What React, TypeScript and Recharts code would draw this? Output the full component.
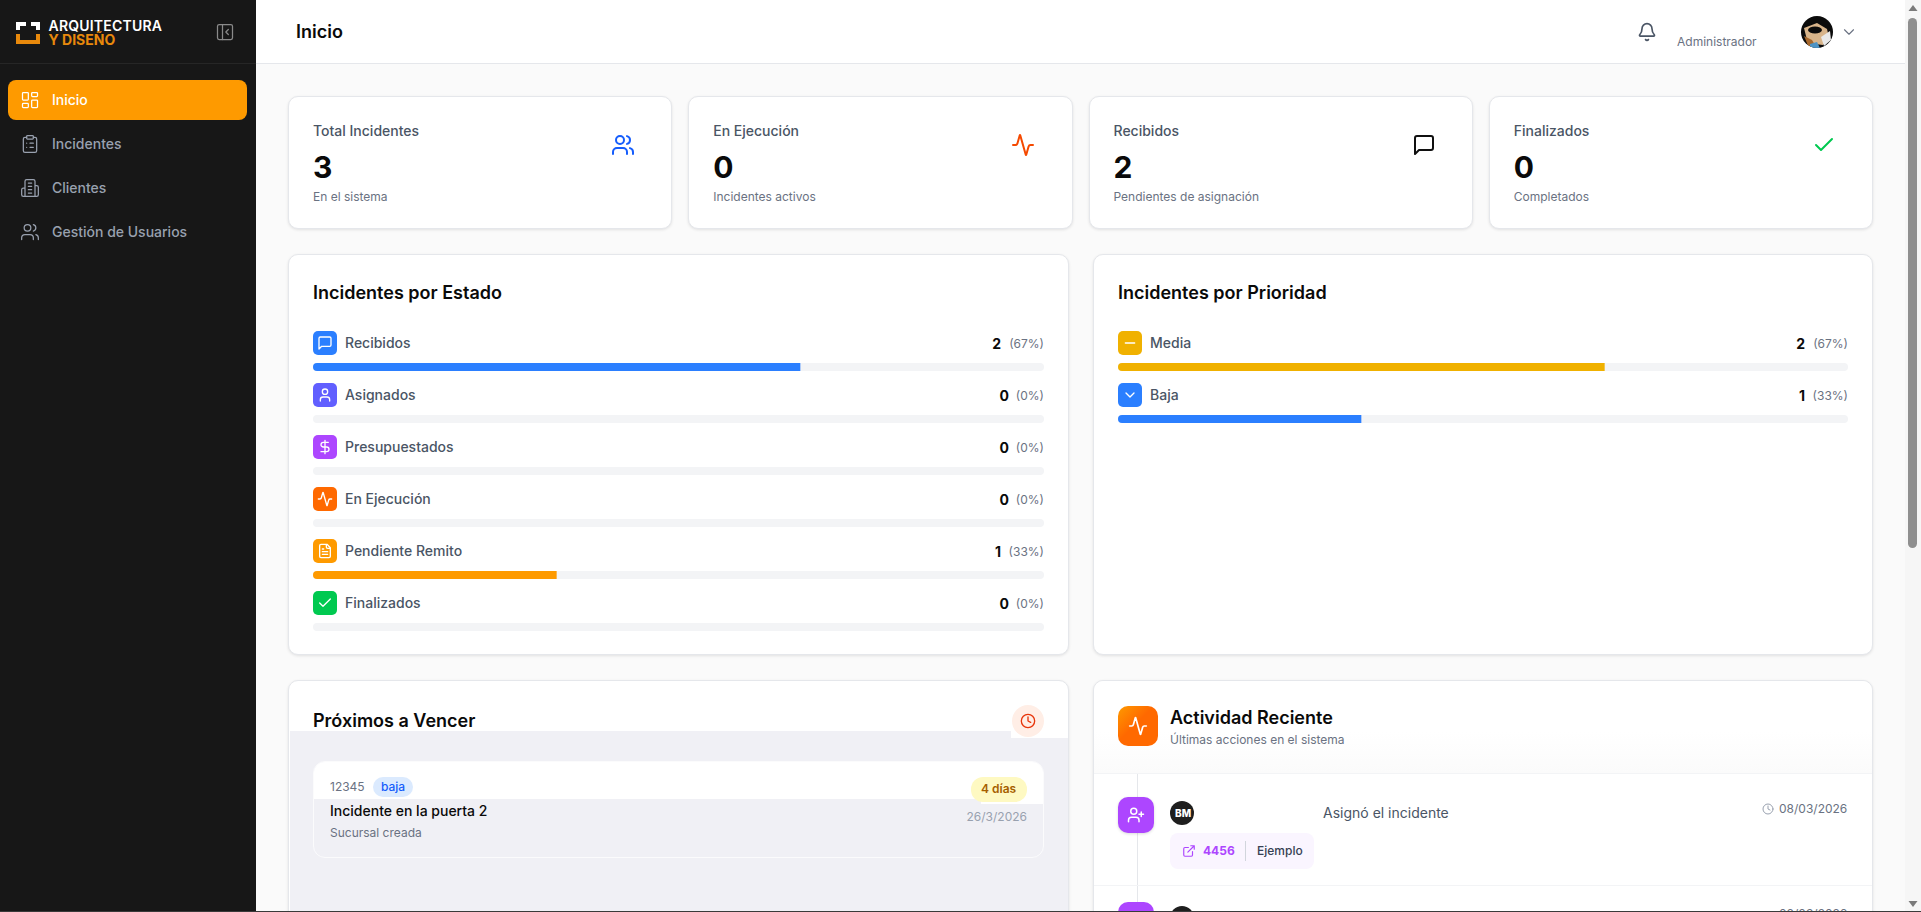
import React from 'react'
import { BarChart, Bar, Cell, XAxis, YAxis, LabelList } from 'recharts'

const FONT = 'Inter, sans-serif'
const INK = '#0a0a0a'

const navItems = ['Inicio', 'Incidentes', 'Clientes', 'Gestión de Usuarios']

const kpiTitles = ['Total Incidentes', 'En Ejecución', 'Recibidos', 'Finalizados']
const kpiValues = [3, 0, 2, 0]
const kpiNotes = ['En el sistema', 'Incidentes activos', 'Pendientes de asignación', 'Completados']

const stateNames = ['Recibidos', 'Asignados', 'Presupuestados', 'En Ejecución', 'Pendiente Remito', 'Finalizados']
const stateCounts = [2, 0, 0, 0, 1, 0]
const statePercents = ['67%', '0%', '0%', '0%', '33%', '0%']

const priorityNames = ['Media', 'Baja']
const priorityCounts = [2, 1]
const priorityPercents = ['67%', '33%']

const totalIncidents = 3

const stateColors = ['#2b7fff', '#615fff', '#ad46ff', '#ff6900', '#fe9a00', '#00c950']
const priorityColors = ['#f0b100', '#2b7fff']

// lucide icons, 24x24 viewBox
const icons: Record<string, React.ReactNode> = {
  dashboard: (
    <>
      <rect x="3" y="3" width="7" height="9" rx="1" />
      <rect x="14" y="3" width="7" height="5" rx="1" />
      <rect x="14" y="12" width="7" height="9" rx="1" />
      <rect x="3" y="16" width="7" height="5" rx="1" />
    </>
  ),
  clipboard: (
    <>
      <rect x="8" y="2" width="8" height="4" rx="1" />
      <path d="M16 4h2a2 2 0 0 1 2 2v14a2 2 0 0 1-2 2H6a2 2 0 0 1-2-2V6a2 2 0 0 1 2-2h2" />
      <path d="M12 11h4M12 16h4M8 11h.01M8 16h.01" />
    </>
  ),
  building: (
    <path d="M6 22V4a2 2 0 0 1 2-2h8a2 2 0 0 1 2 2v18ZM6 12H4a2 2 0 0 0-2 2v6a2 2 0 0 0 2 2h2M18 9h2a2 2 0 0 1 2 2v9a2 2 0 0 1-2 2h-2M10 6h4M10 10h4M10 14h4M10 18h4" />
  ),
  users: (
    <>
      <path d="M16 21v-2a4 4 0 0 0-4-4H6a4 4 0 0 0-4 4v2" />
      <circle cx="9" cy="7" r="4" />
      <path d="M22 21v-2a4 4 0 0 0-3-3.87M16 3.13a4 4 0 0 1 0 7.75" />
    </>
  ),
  activity: (
    <path d="M22 12h-2.48a2 2 0 0 0-1.93 1.46l-2.35 8.36a.25.25 0 0 1-.48 0L9.24 2.18a.25.25 0 0 0-.48 0l-2.35 8.36A2 2 0 0 1 4.49 12H2" />
  ),
  message: <path d="M21 15a2 2 0 0 1-2 2H7l-4 4V5a2 2 0 0 1 2-2h14a2 2 0 0 1 2 2z" />,
  check: <path d="M20 6 9 17l-5-5" />,
  user: (
    <>
      <path d="M19 21v-2a4 4 0 0 0-4-4H9a4 4 0 0 0-4 4v2" />
      <circle cx="12" cy="7" r="4" />
    </>
  ),
  dollar: <path d="M12 2v20M17 5H9.5a3.5 3.5 0 0 0 0 7h5a3.5 3.5 0 0 1 0 7H6" />,
  file: (
    <path d="M15 2H6a2 2 0 0 0-2 2v16a2 2 0 0 0 2 2h12a2 2 0 0 0 2-2V7ZM14 2v4a2 2 0 0 0 2 2h4M10 9H8M16 13H8M16 17H8" />
  ),
  minus: <path d="M5 12h14" />,
  chevron: <path d="m6 9 6 6 6-6" />,
  clock: (
    <>
      <circle cx="12" cy="12" r="10" />
      <path d="M12 6v6l4 2" />
    </>
  ),
  userPlus: (
    <>
      <path d="M16 21v-2a4 4 0 0 0-4-4H6a4 4 0 0 0-4 4v2" />
      <circle cx="9" cy="7" r="4" />
      <path d="M19 8v6M22 11h-6" />
    </>
  ),
  link: <path d="M15 3h6v6M10 14 21 3M18 13v6a2 2 0 0 1-2 2H5a2 2 0 0 1-2-2V8a2 2 0 0 1 2-2h6" />,
  bell: (
    <path d="M10.268 21a2 2 0 0 0 3.464 0M3.262 15.326A1 1 0 0 0 4 17h16a1 1 0 0 0 .74-1.673C19.41 13.956 18 12.499 18 8A6 6 0 0 0 6 8c0 4.499-1.411 5.956-2.738 7.326" />
  ),
  panel: (
    <>
      <rect x="3" y="3" width="18" height="18" rx="2" />
      <path d="M9 3v18M16 15l-3-3 3-3" />
    </>
  ),
}

const navIcons = ['dashboard', 'clipboard', 'building', 'users']
const kpiIcons = ['users', 'activity', 'message', 'check']
const kpiIconColors = ['#155dfc', '#f54900', '#101010', '#00c950']
const stateIcons = ['message', 'user', 'dollar', 'activity', 'file', 'check']
const priorityIcons = ['minus', 'chevron']

function Icon({ name, x, y, size, color, width = 2 }: any) {
  return (
    <svg
      style={{ position: 'absolute', left: x, top: y }}
      width={size}
      height={size}
      viewBox="0 0 24 24"
      fill="none"
      stroke={color}
      strokeWidth={width}
      strokeLinecap="round"
      strokeLinejoin="round"
    >
      {icons[name]}
    </svg>
  )
}

function Txt({ x, right, cy, size = 14, weight = 400, color = INK, spacing, children }: any) {
  return (
    <span
      style={{
        position: 'absolute',
        left: x,
        right: right !== undefined ? 1921 - right : undefined,
        top: cy,
        transform: 'translateY(-50%)',
        fontSize: size,
        fontWeight: weight,
        color,
        letterSpacing: spacing,
        lineHeight: 1,
        whiteSpace: 'nowrap',
      }}
    >
      {children}
    </span>
  )
}

function Box({ x, y, w, h, style }: any) {
  return <div style={{ position: 'absolute', left: x, top: y, width: w, height: h, ...style }} />
}

function Card({ x, y, w, h }: any) {
  return (
    <Box
      x={x}
      y={y}
      w={w}
      h={h}
      style={{
        background: '#fff',
        border: '1px solid #e5e7eb',
        boxSizing: 'border-box',
        borderRadius: 10,
        boxShadow: '0 1px 3px rgba(0,0,0,0.1)',
      }}
    />
  )
}

// icon, name and count of one row, drawn above its bar
function RowLabel({ y, index, names, counts, percents, colors, rowIcons, plotWidth }: any) {
  const top = y - 32
  return (
    <g style={{ fontFamily: FONT }}>
      <rect x={0} y={top} width={24} height={24} rx={5} fill={colors[index]} />
      <g
        transform={`translate(4 ${top + 4}) scale(${16 / 24})`}
        fill="none"
        stroke="#fff"
        strokeWidth={2}
        strokeLinecap="round"
        strokeLinejoin="round"
      >
        {icons[rowIcons[index]]}
      </g>
      <text x={32} y={top + 12} dy="0.35em" fontSize={14} fontWeight={500} fill="#4a5565">
        {names[index]}
      </text>
      <text x={plotWidth} y={top + 13} dy="0.35em" textAnchor="end" fontSize={12} fill="#6a7282">
        ({percents[index]})
      </text>
      <text
        x={plotWidth - (percents[index].length > 2 ? 43 : 35)}
        y={top + 13}
        dy="0.35em"
        textAnchor="end"
        fontSize={14}
        fontWeight={700}
        fill={INK}
      >
        {counts[index]}
      </text>
    </g>
  )
}

function IncidentBars({ x, y, width, names, counts, percents, colors, rowIcons }: any) {
  const data = names.map((name: string, i: number) => ({ name, total: totalIncidents, count: counts[i] }))
  return (
    <div style={{ position: 'absolute', left: x, top: y }}>
      <BarChart
        width={width}
        height={10 + names.length * 52}
        data={data}
        layout="vertical"
        barGap={-8}
        margin={{ top: 10, right: 0, bottom: 0, left: 0 }}
      >
        <XAxis type="number" hide domain={[0, totalIncidents]} />
        <YAxis type="category" dataKey="name" hide />
        <Bar dataKey="total" barSize={8} radius={4} fill="#f3f4f6" isAnimationActive={false}>
          <LabelList
            dataKey="total"
            content={(props: any) => (
              <RowLabel
                {...props}
                names={names}
                counts={counts}
                percents={percents}
                colors={colors}
                rowIcons={rowIcons}
                plotWidth={width}
              />
            )}
          />
        </Bar>
        <Bar dataKey="count" barSize={8} radius={[4, 0, 0, 4]} isAnimationActive={false}>
          {data.map((d: any, i: number) => (
            <Cell key={d.name} fill={colors[i]} />
          ))}
        </Bar>
      </BarChart>
    </div>
  )
}

function Sidebar() {
  return (
    <>
      <Box x={0} y={0} w={256} h={912} style={{ background: '#171717' }} />
      <Box x={0} y={63} w={256} h={1} style={{ background: '#262626' }} />
      <svg style={{ position: 'absolute', left: 16, top: 21 }} width={25} height={24}>
        <path d="M0 1h10v4H4v4H0zM15 1h9v8h-4V5h-5z" fill="#fff" />
        <path d="M0 13h4v6h16v-6h4v10H0z" fill="#e8890c" />
      </svg>
      <Txt x={48.5} cy={26} size={14} weight={600} color="#fff" spacing={0.2}>ARQUITECTURA</Txt>
      <Txt x={48.5} cy={39.5} size={14} weight={700} color="#e8890c">Y DISEÑO</Txt>
      <Icon name="panel" x={215} y={22} size={20} color="#8a8a8a" width={1.5} />
      <Box x={8} y={80} w={239} h={40} style={{ background: '#fe9a00', borderRadius: 8 }} />
      {navItems.map((item, i) => (
        <React.Fragment key={item}>
          <Icon name={navIcons[i]} x={20} y={90 + i * 44} size={20} color={i === 0 ? '#fff' : '#99a1af'} width={1.5} />
          <Txt x={52} cy={100 + i * 44} size={14} weight={500} color={i === 0 ? '#fff' : '#99a1af'}>
            {item}
          </Txt>
        </React.Fragment>
      ))}
    </>
  )
}

function Header() {
  return (
    <>
      <Box x={256} y={0} w={1649} h={64} style={{ background: '#fff', borderBottom: '1px solid #e5e7eb', boxSizing: 'border-box' }} />
      <Txt x={296} cy={32} size={18} weight={600}>Inicio</Txt>
      <Icon name="bell" x={1637} y={22} size={20} color="#4a5565" />
      <Txt x={1677} cy={42} size={12} color="#6a7282">Administrador</Txt>
      <svg style={{ position: 'absolute', left: 1801, top: 16 }} width={32} height={32}>
        <clipPath id="avatar-clip">
          <circle cx={16} cy={16} r={16} />
        </clipPath>
        <g clipPath="url(#avatar-clip)">
          <rect width={32} height={32} fill="#0b0b0b" />
          <path d="M3 12 16 7l10 6 2 9-6 7-8-1-8-4z" fill="#d8b48a" />
          <path d="M3 20l8 4 3 5-6 3z" fill="#a8682c" />
          <ellipse cx={14} cy={14} rx={7} ry={3.5} fill="#0b0b0b" />
          <path d="M20 21l9-6 1 9-7 6z" fill="#e9e9e9" />
          <path d="M9 28l7-2 3 6H9z" fill="#4e93c4" />
        </g>
      </svg>
      <Icon name="chevron" x={1840} y={23} size={18} color="#6a7282" width={1.5} />
    </>
  )
}

function KpiRow() {
  const lefts = [288, 688.25, 1088.5, 1488.75]
  return (
    <>
      {kpiTitles.map((title, i) => (
        <React.Fragment key={title}>
          <Card x={lefts[i]} y={96} w={384.25} h={133} />
          <Txt x={lefts[i] + 25} cy={131} size={14} weight={500} color="#4a5565">{title}</Txt>
          <Txt x={lefts[i] + 25} cy={166.5} size={30} weight={700}>{kpiValues[i]}</Txt>
          <Txt x={lefts[i] + 25} cy={197} size={12} color="#6a7282">{kpiNotes[i]}</Txt>
          <Icon name={kpiIcons[i]} x={lefts[i] + 323} y={133} size={24} color={kpiIconColors[i]} />
        </React.Fragment>
      ))}
    </>
  )
}

function ExpiringCard() {
  return (
    <>
      <Card x={288} y={680} w={780.5} h={260} />
      <Box x={290} y={731} w={721} h={181} style={{ background: '#f0f0f5' }} />
      <Box x={1011} y={738} w={57} h={174} style={{ background: '#f0f0f5' }} />
      <Txt x={313} cy={720.5} size={18} weight={600}>Próximos a Vencer</Txt>
      <Box x={1012} y={705} w={32} h={32} style={{ background: '#ffeee6', borderRadius: 16 }} />
      <Icon name="clock" x={1020} y={713} size={16} color="#e7350b" />
      <div
        style={{
          position: 'absolute',
          left: 313,
          top: 761,
          width: 731,
          height: 97,
          boxSizing: 'border-box',
          border: '1px solid rgba(255,255,255,0.7)',
          borderRadius: 12,
          overflow: 'hidden',
        }}
      >
        <Box x={0} y={0} w={731} h={37} style={{ background: '#fff' }} />
        <Box x={667} y={37} w={64} h={5} style={{ background: '#fff' }} />
      </div>
      <Txt x={330} cy={787} size={12} color="#6a7282">12345</Txt>
      <Box x={373} y={777} w={40} h={20} style={{ background: '#dbeafe', borderRadius: 10 }} />
      <Txt x={381} cy={787} size={12} weight={500} color="#155dfc">baja</Txt>
      <Box x={971} y={777} w={56} h={25} style={{ background: '#fef9c2', borderRadius: 12 }} />
      <Txt x={981} cy={789} size={12} weight={600} color="#a65f00">4 días</Txt>
      <Txt x={330} cy={811} size={14} weight={500}>Incidente en la puerta 2</Txt>
      <Txt x={330} cy={833} size={12} color="#6a7282">Sucursal creada</Txt>
      <Txt right={1027} cy={817} size={12} color="#99a1af">26/3/2026</Txt>
    </>
  )
}

function ActivityCard() {
  return (
    <>
      <Card x={1092.5} y={680} w={780.5} h={260} />
      <Box x={1094} y={681} w={778} h={92} style={{ background: 'linear-gradient(#fff 55%, #fbfbfb)', borderRadius: '10px 10px 0 0', borderBottom: '1px solid #f3f4f6' }} />
      <Box x={1118} y={706} w={40} h={40} style={{ background: 'linear-gradient(135deg, #fe9a00, #ff6900 45%)', borderRadius: 10 }} />
      <Icon name="activity" x={1128} y={716} size={20} color="#fff" />
      <Txt x={1170} cy={718} size={18} weight={600}>Actividad Reciente</Txt>
      <Txt x={1170} cy={740} size={12} color="#6a7282">Últimas acciones en el sistema</Txt>
      <Box x={1137} y={774} w={1} h={138} style={{ background: '#e5e7eb' }} />
      <Box x={1094} y={885} w={778} h={1} style={{ background: '#f3f4f6' }} />

      <Box x={1118} y={797} w={36} h={36} style={{ background: '#ad46ff', borderRadius: 10, boxShadow: '0 1px 3px rgba(0,0,0,0.15)' }} />
      <Icon name="userPlus" x={1127} y={806} size={18} color="#fff" />
      <Box x={1170} y={801} w={24} h={24} style={{ background: '#1e1e1e', borderRadius: 12 }} />
      <Txt x={1175} cy={813} size={10} weight={800} color="#fff">BM</Txt>
      <Txt x={1323} cy={813} size={14} color="#4a5565">Asignó el incidente</Txt>
      <Icon name="clock" x={1762} y={803} size={12} color="#99a1af" />
      <Txt x={1779} cy={809} size={12} color="#6a7282">08/03/2026</Txt>
      <Box x={1170} y={833} w={144} h={36} style={{ background: '#faf5ff', borderRadius: 8 }} />
      <Icon name="link" x={1182} y={844} size={14} color="#ad46ff" />
      <Txt x={1203} cy={851} size={12} weight={700} color="#ad46ff">4456</Txt>
      <Box x={1245} y={841} w={1} h={20} style={{ background: '#d1d5dc' }} />
      <Txt x={1257} cy={851} size={12} weight={500} color="#364153">Ejemplo</Txt>

      <Box x={1118} y={902} w={36} h={36} style={{ background: '#ad46ff', borderRadius: 10 }} />
      <Box x={1170} y={906} w={24} h={24} style={{ background: '#1e1e1e', borderRadius: 12 }} />
      <Txt x={1779} cy={914} size={12} color="#6a7282">08/03/2026</Txt>
    </>
  )
}

function Scrollbar() {
  return (
    <>
      <Box x={1905} y={0} w={16} h={912} style={{ background: '#f6f6f6' }} />
      <Box x={1908} y={18} w={9} h={530} style={{ background: '#8f8f8f', borderRadius: 5 }} />
      <svg style={{ position: 'absolute', left: 1905, top: 0 }} width={16} height={912}>
        <path d="M8 5l4.5 6h-9z" fill="#7a7a7a" />
        <path d="M8 907l4.5-6h-9z" fill="#7a7a7a" />
      </svg>
    </>
  )
}

export default function App() {
  return (
    <div
      style={{
        position: 'fixed',
        left: 0,
        top: 0,
        width: 1921,
        height: 912,
        overflow: 'hidden',
        background: '#fafafa',
        fontFamily: FONT,
      }}
    >
      <Header />
      <KpiRow />

      <Card x={288} y={254} w={780.5} h={401} />
      <Txt x={313} cy={293} size={18} weight={600}>Incidentes por Estado</Txt>
      <IncidentBars
        x={313}
        y={331}
        width={731}
        names={stateNames}
        counts={stateCounts}
        percents={statePercents}
        colors={stateColors}
        rowIcons={stateIcons}
      />

      <Card x={1092.5} y={254} w={780.5} h={401} />
      <Txt x={1118} cy={293} size={18} weight={600}>Incidentes por Prioridad</Txt>
      <IncidentBars
        x={1118}
        y={331}
        width={730}
        names={priorityNames}
        counts={priorityCounts}
        percents={priorityPercents}
        colors={priorityColors}
        rowIcons={priorityIcons}
      />

      <ExpiringCard />
      <ActivityCard />
      <Sidebar />
      <Scrollbar />
      <Box x={0} y={911} w={1921} h={1} style={{ background: '#3a3a3a' }} />
    </div>
  )
}
